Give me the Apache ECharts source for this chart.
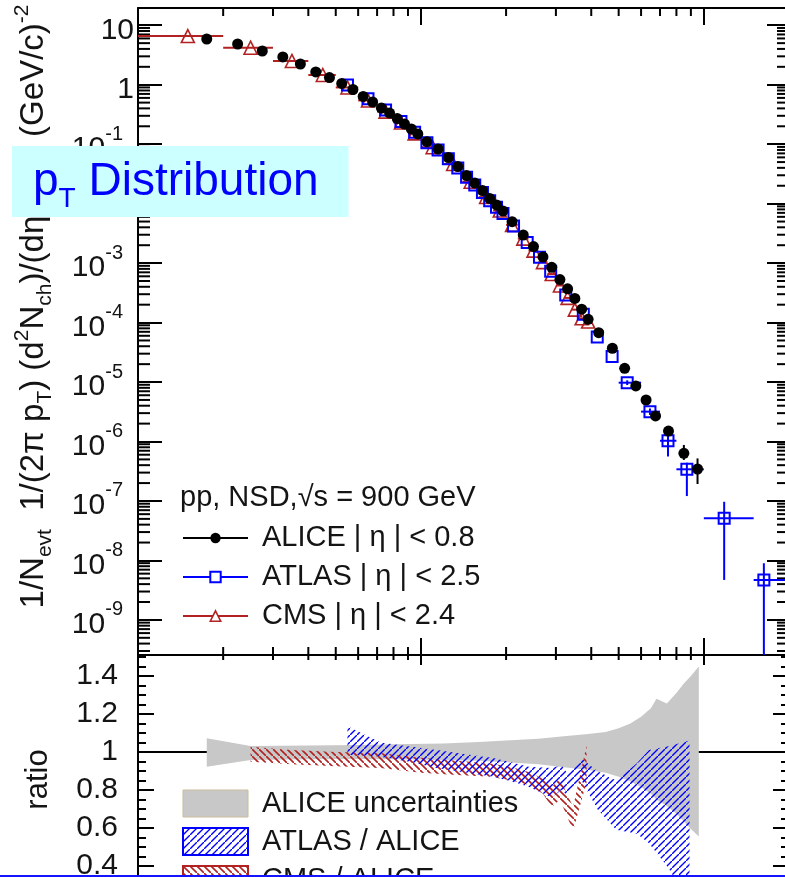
<!DOCTYPE html>
<html><head><meta charset="utf-8">
<script src="https://cdn.jsdelivr.net/npm/echarts@6/dist/echarts.min.js"></script>
<style>
html,body{margin:0;padding:0;background:#fff;}
#c{position:absolute;left:0;top:0;width:785px;height:877px;}
#b{position:absolute;left:0;top:875px;width:785px;height:2px;background:#1414ff;}
</style></head>
<body><div id="c"></div><div id="b"></div>
<script>
// ---------------- data ----------------
const alicePt = [0.175,0.225,0.275,0.325,0.375,0.425,0.475,0.525,0.575,0.625,0.675,0.725,0.775,0.825,0.875,0.925,0.975,
  1.05,1.15,1.25,1.35,1.45,1.55,1.65,1.75,1.85,1.95,
  2.1,2.3,2.5,2.7,2.9,3.1,3.3,3.5,3.7,3.9,
  4.25,4.75,5.25,5.75,6.25,6.75,7.5,8.5,9.5];
const aliceVal = [5.87,4.84,3.69,2.93,2.23,1.64,1.32,1.05,0.831,0.634,0.512,0.406,0.334,0.270,0.2185,0.180,0.1484,
  0.110,0.083,0.0597,0.0421,0.0297,0.0222,0.01664,0.0122,0.0095,0.00752,
  0.00497,0.00297,0.0019,0.00127,0.00085,0.000528,0.00037,0.000255,0.000168,0.0001136,
  6.76e-5,3.70e-5,1.70e-5,8.59e-6,4.99e-6,2.69e-6,1.50e-6,6.34e-7,3.45e-7];
const aliceErrPt  = [7.5, 8.5, 9.5];
const aliceErrVal = [1.50e-6, 6.34e-7, 3.45e-7];
const aliceErrLo  = [1.25e-6, 4.9e-7, 1.93e-7];
const aliceErrHi  = [1.8e-6, 8.75e-7, 5.2e-7];

const atlasPt = [0.55,0.65,0.75,0.85,0.95,1.05,1.15,1.25,1.35,1.45,1.55,1.65,1.75,1.85,1.95,
  2.125,2.375,2.625,2.875,3.25,3.75,4.2,4.74,5.36,6.45,7.47,8.71,11.8,16.3];
const atlasVal = [0.99,0.58,0.374,0.24,0.159,0.106,0.0797,0.057,0.0398,0.0279,0.0206,0.0154,0.01122,0.00869,0.0068,
  0.0042,0.00222,0.00125,0.00073,0.00029,0.000138,5.73e-5,2.69e-5,9.75e-6,3.18e-6,1.03e-6,3.41e-7,5.12e-8,4.7e-9];
const atlasErrPt  = [5.36, 6.45, 7.47, 8.71, 11.8, 16.3];
const atlasErrVal = [9.75e-6, 3.18e-6, 1.03e-6, 3.41e-7, 5.12e-8, 4.7e-9];
const atlasErrXlo = [5.0, 6.0, 7.0, 8.0, 10.0, 15.0];
const atlasErrXhi = [6.0, 7.0, 8.0, 10.0, 15.0, 20.0];
const atlasErrYlo = [8.9e-6, 2.8e-6, 5.6e-7, 1.21e-7, 4.7e-9, 1e-12];
const atlasErrYhi = [1.07e-5, 3.6e-6, 1.39e-6, 4.4e-7, 9.7e-8, 8.97e-9];

const cmsPt = [0.15,0.25,0.35,0.45,0.55,0.65,0.75,0.85,0.95,1.1,1.3,1.5,1.7,1.9,2.1,2.3,2.5,2.7,2.9,3.1,3.3,3.5,3.7,3.9];
const cmsVal = [6.59,4.19,2.51,1.457,0.90,0.544,0.353,0.231,0.152,0.089,0.0464,0.0234,0.0129,0.00765,
  0.0044,0.00258,0.00162,0.00104,0.000655,0.00042,0.00026,0.000165,0.000118,0.000104];
const cmsBinLo = [0.1,0.2,0.3,0.4,0.5,0.6,0.7,0.8,0.9,1.0,1.2,1.4,1.6,1.8,2.0,2.2,2.4,2.6,2.8,3.0,3.2,3.4,3.6,3.8];
const cmsBinHi = [0.2,0.3,0.4,0.5,0.6,0.7,0.8,0.9,1.0,1.2,1.4,1.6,1.8,2.0,2.2,2.4,2.6,2.8,3.0,3.2,3.4,3.6,3.8,4.0];

// ratio panel bands
const grayPt = [0.175,0.25,0.4,0.6,0.8,1.2,1.6,2.0,2.6,3.2,3.9,4.5,5.0,5.5,6.0,6.5,6.8,7.4,8.0,8.5,9.0,9.6];
const grayHi = [1.072,1.031,1.034,1.036,1.04,1.045,1.052,1.06,1.07,1.082,1.094,1.105,1.125,1.15,1.185,1.23,1.28,1.255,1.31,1.36,1.40,1.45];
const grayLo = [0.922,0.957,0.962,0.963,0.962,0.958,0.954,0.946,0.935,0.92,0.905,0.89,0.87,0.845,0.815,0.78,0.75,0.715,0.675,0.635,0.595,0.555];

const atlasRatioPt = [0.55,0.72,0.9,1.14,1.4,1.8,2.1,2.4,2.9,3.14,3.3,3.7,4.2,4.9,5.8,6.4,7.5,8.9];
const atlasRatioHi = [1.135,1.05,1.03,1.01,0.99,0.968,0.945,0.922,0.915,0.93,0.885,0.965,0.90,0.85,0.94,1.01,1.03,1.06];
const atlasRatioLo = [0.985,0.975,0.95,0.915,0.895,0.87,0.845,0.817,0.76,0.80,0.77,0.85,0.70,0.59,0.57,0.52,0.39,0.2];

const cmsRatioPt = [0.25,0.35,0.5,0.72,1.0,1.3,1.75,2.1,2.4,2.7,2.9,3.1,3.45,3.85];
const cmsRatioHi = [1.027,1.01,1.0,0.994,0.97,0.955,0.94,0.92,0.895,0.86,0.82,0.86,0.71,1.035];
const cmsRatioLo = [0.948,0.935,0.925,0.915,0.89,0.88,0.87,0.85,0.826,0.78,0.71,0.75,0.585,0.84];

// axis ranges
const PT_MIN = 0.1, PT_MAX = 20;
const SPEC_MIN = 2.57e-10, SPEC_MAX = 19.5;
const R_MIN = 0.2, R_MAX = 1.51;

// ---------------- helpers ----------------
const lg = Math.log10;
const X_MIN = lg(PT_MIN), X_MAX = lg(PT_MAX);
const Y_MIN = lg(SPEC_MIN), Y_MAX = lg(SPEC_MAX);
const FONT = "'Liberation Sans', Arial, sans-serif";
const INK = '#141414';
const BLUE = '#0000ff', RED = '#b22222';

function hatch(color, up, lw) {
  const s = 7, c = document.createElement('canvas');
  c.width = s; c.height = s;
  const g = c.getContext('2d');
  g.strokeStyle = color; g.lineWidth = lw; g.beginPath();
  if (up) { g.moveTo(-s, s*2); g.lineTo(s*2, -s); g.moveTo(-s*2, s); g.lineTo(s, -s*2); g.moveTo(0, s*3); g.lineTo(s*3, 0); }
  else    { g.moveTo(-s, -s); g.lineTo(s*2, s*2); g.moveTo(-s*2, 0); g.lineTo(s, s*3); g.moveTo(0, -s*2); g.lineTo(s*3, s); }
  g.stroke();
  return { image: c, repeat: 'repeat' };
}
const blueHatch = hatch(BLUE, true, 1.4);
const redHatch = hatch(RED, false, 1.6);

// minor tick positions of the log axes
const xMinor = [], yMinor = [];
for (let n = -1; n <= 1; n++) for (let k = 2; k <= 9; k++) { const v = lg(k) + n; if (v > X_MIN + 1e-9 && v < X_MAX - 1e-9) xMinor.push(v); }
for (let n = -10; n <= 1; n++) for (let k = 2; k <= 9; k++) { const v = lg(k) + n; if (v > Y_MIN && v < Y_MAX) yMinor.push(v); }

function tickSeries(xi, yi, data, dx, dy) {
  return {
    type: 'custom', xAxisIndex: xi, yAxisIndex: yi, silent: true, z: 1, data: data,
    renderItem: (p, api) => {
      const c = api.coord([api.value(0), api.value(1)]);
      return { type: 'line', shape: { x1: c[0], y1: c[1], x2: c[0] + dx, y2: c[1] + dy }, style: { stroke: '#000', lineWidth: 2 } };
    }
  };
}

function errSeries(name, pts, vals, xlo, xhi, ylo, yhi, color, w, z) {
  const data = pts.map((p, i) => [lg(p), lg(vals[i]), lg(xlo ? xlo[i] : p), lg(xhi ? xhi[i] : p),
    lg(ylo ? ylo[i] : vals[i]), lg(yhi ? yhi[i] : vals[i])]);
  return {
    name: name, type: 'custom', xAxisIndex: 0, yAxisIndex: 0, clip: true, silent: true, z: z, data: data,
    renderItem: (p, api) => {
      const c = api.coord([api.value(0), api.value(1)]);
      const xa = api.coord([api.value(2), api.value(1)])[0], xb = api.coord([api.value(3), api.value(1)])[0];
      const ya = api.coord([api.value(0), api.value(4)])[1], yb = api.coord([api.value(0), api.value(5)])[1];
      const ch = [];
      if (Math.abs(xb - xa) > 0.5) ch.push({ type: 'line', shape: { x1: xa, y1: c[1], x2: xb, y2: c[1] }, style: { stroke: color, lineWidth: w } });
      if (Math.abs(yb - ya) > 0.5) ch.push({ type: 'line', shape: { x1: c[0], y1: ya, x2: c[0], y2: yb }, style: { stroke: color, lineWidth: w } });
      return { type: 'group', children: ch };
    }
  };
}

function bandSeries(name, pts, lo, hi, fill, z) {
  return {
    name: name, type: 'custom', xAxisIndex: 2, yAxisIndex: 2, clip: true, silent: true, z: z,
    data: [[lg(pts[0]), hi[0]]],
    renderItem: (p, api) => {
      const poly = [];
      for (let i = 0; i < pts.length; i++) poly.push(api.coord([lg(pts[i]), hi[i]]));
      for (let i = pts.length - 1; i >= 0; i--) poly.push(api.coord([lg(pts[i]), lo[i]]));
      return { type: 'polygon', shape: { points: poly }, style: { fill: fill } };
    }
  };
}

function pointSeries(name, pts, vals, symbol, size, itemStyle, z) {
  return {
    name: name, type: 'line', xAxisIndex: 0, yAxisIndex: 0, z: z,
    data: pts.map((p, i) => [lg(p), lg(vals[i])]),
    symbol: symbol, symbolSize: size, showSymbol: true, showAllSymbol: true,
    lineStyle: { width: 2, opacity: 0 }, itemStyle: itemStyle, silent: true
  };
}

const axLine = { onZero: false, lineStyle: { color: '#000', width: 2 } };
const tickStyle = { color: '#000', width: 2 };
function xAx(grid, pos, len) {
  return { gridIndex: grid, type: 'value', position: pos, min: X_MIN, max: X_MAX, minInterval: 1, maxInterval: 1,
    axisLine: axLine, axisTick: { inside: true, length: len, lineStyle: tickStyle }, axisLabel: { show: false }, splitLine: { show: false } };
}

const specRich = {
  b: { fontFamily: FONT, fontSize: 30, lineHeight: 40, verticalAlign: 'bottom', color: INK },
  s: { fontFamily: FONT, fontSize: 20, lineHeight: 20, verticalAlign: 'top', color: INK, padding: [0, 11, 0, 0] }
};
const titleRich = {
  a: { fontFamily: FONT, fontSize: 33, lineHeight: 44, color: INK },
  s: { fontFamily: FONT, fontSize: 21, lineHeight: 21, verticalAlign: 'bottom', color: INK },
  u: { fontFamily: FONT, fontSize: 21, lineHeight: 21, verticalAlign: 'top', color: INK }
};
const legendText = { fontFamily: FONT, fontSize: 29, lineHeight: 30, color: INK, padding: [0, 0, 0, 9] };
function bandLegend(top, items) {
  return { orient: 'vertical', left: 182, top: top, padding: 0, itemWidth: 65, itemHeight: 27, itemGap: 8,
    selectedMode: false, textStyle: legendText, data: items };
}

const option = {
  animation: false,
  backgroundColor: '#fff',
  title: [
    { text: '{p|p}{t|T}{p| Distribution}', left: 12, top: 138, padding: [13, 30, 4, 21], backgroundColor: '#ccffff', z: 10,
      textStyle: { rich: {
        p: { fontFamily: FONT, fontSize: 46, lineHeight: 62, color: '#0000ff', fontWeight: 'normal' },
        t: { fontFamily: FONT, fontSize: 28, lineHeight: 28, verticalAlign: 'bottom', color: '#0000ff', fontWeight: 'normal' } } } },
    { text: 'pp, NSD,√s = 900 GeV', left: 180, top: 483, padding: 0,
      textStyle: { fontFamily: FONT, fontSize: 29, lineHeight: 30, fontWeight: 'normal', color: INK } }
  ],
  legend: [
    { orient: 'vertical', left: 182, top: 523, padding: 0, itemWidth: 65, itemHeight: 13, itemGap: 9, selectedMode: false,
      textStyle: legendText,
      data: [
        { name: 'ALICE | η | < 0.8', itemStyle: { color: '#000', borderWidth: 0 }, lineStyle: { color: '#000', width: 2, opacity: 1, type: 'solid' } },
        { name: 'ATLAS | η | < 2.5', itemStyle: { color: '#fff', borderColor: BLUE, borderWidth: 2 }, lineStyle: { color: BLUE, width: 2, opacity: 1, type: 'solid' } },
        { name: 'CMS | η | < 2.4', itemStyle: { color: '#fff', borderColor: RED, borderWidth: 1.6 }, lineStyle: { color: RED, width: 2, opacity: 1, type: 'solid' } }
      ] },
    bandLegend(788.5, [
      { name: 'ALICE uncertainties', icon: 'rect', itemStyle: { color: '#c8c8c8', borderColor: '#cbbd9c', borderWidth: 1 } },
      { name: 'ATLAS / ALICE', icon: 'rect', itemStyle: { color: blueHatch, borderColor: BLUE, borderWidth: 2 } }
    ]),
    bandLegend(864.5, [
      { name: 'CMS / ALICE', icon: 'rect', itemStyle: { color: redHatch, borderColor: RED, borderWidth: 2 } }
    ])
  ],
  grid: [
    { left: 138, top: 8, width: 651, height: 647, containLabel: false, outerBoundsMode: 'none' },
    { left: 138, top: 655, width: 651, height: 249, containLabel: false, outerBoundsMode: 'none' }
  ],
  xAxis: [ xAx(0, 'bottom', 17), xAx(0, 'top', 17), xAx(1, 'top', 10), xAx(1, 'bottom', 10) ],
  yAxis: [
    { gridIndex: 0, type: 'value', position: 'left', min: Y_MIN, max: Y_MAX, minInterval: 1, maxInterval: 1,
      axisLine: axLine, axisTick: { inside: true, length: 24, lineStyle: tickStyle }, splitLine: { show: false },
      axisLabel: { margin: 4, showMinLabel: false, showMaxLabel: false, rich: specRich,
        formatter: v => { const n = Math.round(v); if (Math.abs(v - n) > 1e-6) return '';
          if (n === 1) return '{b|10}'; if (n === 0) return '{b|1}'; return '{b|10}{s|' + n + '}'; } },
      name: '{a|1/N}{s|evt}{a|  1/(2π p}{s|T}{a|) (d}{u|2}{a|N}{s|ch}{a|)/(dη dp}{s|T}{a|) (GeV/c)}{u|-2}',
      nameLocation: 'middle', nameRotate: 90, nameGap: 82,
      nameTextStyle: { rich: titleRich, padding: [0, 0, 0, 50] } },
    { gridIndex: 0, type: 'value', position: 'right', min: Y_MIN, max: Y_MAX, minInterval: 1, maxInterval: 1,
      axisLine: axLine, axisTick: { inside: true, length: 22, lineStyle: tickStyle }, splitLine: { show: false }, axisLabel: { show: false } },
    { gridIndex: 1, type: 'value', position: 'left', min: R_MIN, max: R_MAX, interval: 0.2,
      axisLine: axLine, axisTick: { inside: true, length: 16, lineStyle: tickStyle }, splitLine: { show: false },
      minorTick: { show: true, splitNumber: 4, length: 8, lineStyle: tickStyle },
      axisLabel: { margin: 20, showMaxLabel: false, fontFamily: FONT, fontSize: 30, color: INK,
        formatter: v => (v > 1.5 ? '' : String(Math.round(v * 100) / 100)) },
      name: 'ratio', nameLocation: 'middle', nameRotate: 90, nameGap: 84,
      nameTextStyle: { fontFamily: FONT, fontSize: 31, lineHeight: 31, color: INK } },
    { gridIndex: 1, type: 'value', position: 'right', min: R_MIN, max: R_MAX, interval: 0.2,
      axisLine: axLine, axisTick: { inside: true, length: 16, lineStyle: tickStyle }, splitLine: { show: false },
      minorTick: { show: true, splitNumber: 4, length: 8, lineStyle: tickStyle }, axisLabel: { show: false } }
  ],
  series: [
    { name: 'unity', type: 'line', xAxisIndex: 2, yAxisIndex: 2, data: [[X_MIN, 1], [X_MAX, 1]], symbol: 'none',
      lineStyle: { color: '#000', width: 2 }, silent: true, z: 1 },
    bandSeries('ALICE uncertainties', grayPt, grayLo, grayHi, '#c8c8c8', 2),
    bandSeries('CMS / ALICE', cmsRatioPt, cmsRatioLo, cmsRatioHi, redHatch, 3),
    bandSeries('ATLAS / ALICE', atlasRatioPt, atlasRatioLo, atlasRatioHi, blueHatch, 4),

    errSeries('cms-err', cmsPt, cmsVal, cmsBinLo, cmsBinHi, null, null, RED, 2, 3),
    pointSeries('CMS | η | < 2.4', cmsPt, cmsVal, 'triangle', 13, { color: 'rgba(255,255,255,0)', borderColor: RED, borderWidth: 1.6 }, 4),
    errSeries('atlas-err', atlasErrPt, atlasErrVal, atlasErrXlo, atlasErrXhi, atlasErrYlo, atlasErrYhi, BLUE, 2, 5),
    pointSeries('ATLAS | η | < 2.5', atlasPt, atlasVal, 'rect', 11, { color: 'rgba(255,255,255,0)', borderColor: BLUE, borderWidth: 2 }, 6),
    errSeries('alice-err', aliceErrPt, aliceErrVal, null, null, aliceErrLo, aliceErrHi, '#000', 2, 7),
    pointSeries('ALICE | η | < 0.8', alicePt, aliceVal, 'circle', 11, { color: '#000' }, 8),

    tickSeries(1, 0, xMinor.map(v => [v, Y_MAX]), 0, 8),
    tickSeries(0, 0, xMinor.map(v => [v, Y_MIN]), 0, -8),
    tickSeries(2, 2, xMinor.map(v => [v, R_MAX]), 0, 5),
    tickSeries(0, 0, yMinor.map(v => [X_MIN, v]), 12, 0),
    tickSeries(0, 1, yMinor.map(v => [X_MAX, v]), -12, 0)
  ]
};

const chart = echarts.init(document.getElementById('c'), null, { renderer: 'canvas' });
chart.setOption(option);
</script>
</body></html>
